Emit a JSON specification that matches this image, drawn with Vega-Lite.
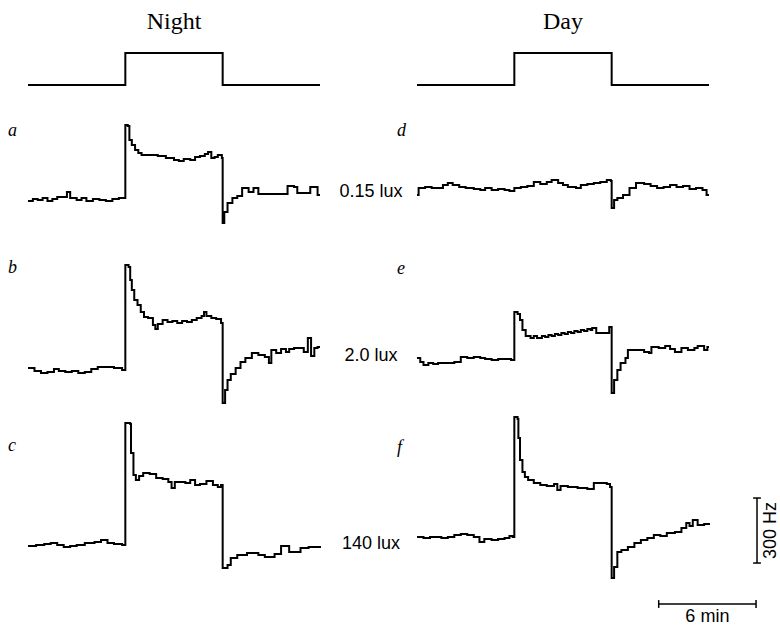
{
  "$schema": "https://vega.github.io/schema/vega-lite/v6.json",
  "padding": {"left": 8, "top": 10, "right": 0, "bottom": 0},
  "background": "white",
  "config": {
    "view": {"stroke": null},
    "title": {"color": "black", "fontWeight": "normal"},
    "axis": {"labelColor": "black", "titleColor": "black"}
  },
  "datasets": {
    "stimulus": [
      {"min": 0, "level": 0}, {"min": 6, "level": 1}, {"min": 12, "level": 0}, {"min": 18, "level": 0}
    ],
    "traces": [
      {"panel":"a","min":0,"hz":157},{"panel":"a","min":0.3,"hz":166},{"panel":"a","min":0.6,"hz":162},{"panel":"a","min":0.9,"hz":171},{"panel":"a","min":1.2,"hz":157},{"panel":"a","min":1.5,"hz":166},{"panel":"a","min":1.8,"hz":175},{"panel":"a","min":2.1,"hz":175},{"panel":"a","min":2.4,"hz":198},{"panel":"a","min":2.6,"hz":171},{"panel":"a","min":3.0,"hz":162},{"panel":"a","min":3.3,"hz":171},{"panel":"a","min":3.6,"hz":157},{"panel":"a","min":4.0,"hz":166},{"panel":"a","min":4.4,"hz":162},{"panel":"a","min":4.8,"hz":157},{"panel":"a","min":5.2,"hz":166},{"panel":"a","min":5.6,"hz":171},{"panel":"a","min":5.9,"hz":171},{"panel":"a","min":6.0,"hz":508},{"panel":"a","min":6.15,"hz":503},{"panel":"a","min":6.25,"hz":438},{"panel":"a","min":6.4,"hz":415},{"panel":"a","min":6.6,"hz":392},{"panel":"a","min":6.8,"hz":378},{"panel":"a","min":7.0,"hz":369},{"panel":"a","min":7.5,"hz":369},{"panel":"a","min":8.0,"hz":365},{"panel":"a","min":8.5,"hz":355},{"panel":"a","min":9.0,"hz":346},{"panel":"a","min":9.3,"hz":342},{"panel":"a","min":9.6,"hz":351},{"panel":"a","min":10.0,"hz":346},{"panel":"a","min":10.3,"hz":360},{"panel":"a","min":10.6,"hz":365},{"panel":"a","min":10.9,"hz":374},{"panel":"a","min":11.1,"hz":383},{"panel":"a","min":11.3,"hz":355},{"panel":"a","min":11.5,"hz":360},{"panel":"a","min":11.7,"hz":369},{"panel":"a","min":11.95,"hz":355},{"panel":"a","min":12.0,"hz":55},{"panel":"a","min":12.1,"hz":106},{"panel":"a","min":12.3,"hz":148},{"panel":"a","min":12.6,"hz":171},{"panel":"a","min":12.9,"hz":180},{"panel":"a","min":13.2,"hz":217},{"panel":"a","min":13.6,"hz":198},{"panel":"a","min":13.9,"hz":217},{"panel":"a","min":14.2,"hz":189},{"panel":"a","min":15.0,"hz":189},{"panel":"a","min":15.6,"hz":189},{"panel":"a","min":16.0,"hz":226},{"panel":"a","min":16.4,"hz":222},{"panel":"a","min":16.6,"hz":194},{"panel":"a","min":17.2,"hz":194},{"panel":"a","min":17.4,"hz":222},{"panel":"a","min":17.7,"hz":222},{"panel":"a","min":17.85,"hz":185},{"panel":"a","min":18.0,"hz":185},

      {"panel":"d","min":0,"hz":185},{"panel":"d","min":0.1,"hz":217},{"panel":"d","min":0.5,"hz":222},{"panel":"d","min":0.9,"hz":217},{"panel":"d","min":1.3,"hz":217},{"panel":"d","min":1.6,"hz":231},{"panel":"d","min":1.9,"hz":240},{"panel":"d","min":2.2,"hz":231},{"panel":"d","min":2.6,"hz":222},{"panel":"d","min":3.0,"hz":217},{"panel":"d","min":3.5,"hz":212},{"panel":"d","min":3.9,"hz":208},{"panel":"d","min":4.2,"hz":217},{"panel":"d","min":4.6,"hz":208},{"panel":"d","min":5.0,"hz":212},{"panel":"d","min":5.4,"hz":208},{"panel":"d","min":5.7,"hz":203},{"panel":"d","min":6.0,"hz":217},{"panel":"d","min":6.4,"hz":222},{"panel":"d","min":6.8,"hz":226},{"panel":"d","min":7.2,"hz":245},{"panel":"d","min":7.6,"hz":235},{"panel":"d","min":8.0,"hz":245},{"panel":"d","min":8.3,"hz":254},{"panel":"d","min":8.7,"hz":240},{"panel":"d","min":9.0,"hz":231},{"panel":"d","min":9.3,"hz":222},{"panel":"d","min":9.8,"hz":217},{"panel":"d","min":10.1,"hz":231},{"panel":"d","min":10.5,"hz":235},{"panel":"d","min":10.9,"hz":240},{"panel":"d","min":11.3,"hz":245},{"panel":"d","min":11.7,"hz":254},{"panel":"d","min":11.95,"hz":249},{"panel":"d","min":12.0,"hz":125},{"panel":"d","min":12.15,"hz":162},{"panel":"d","min":12.35,"hz":171},{"panel":"d","min":12.7,"hz":185},{"panel":"d","min":13.1,"hz":217},{"panel":"d","min":13.5,"hz":240},{"panel":"d","min":14.0,"hz":235},{"panel":"d","min":14.4,"hz":226},{"panel":"d","min":14.8,"hz":217},{"panel":"d","min":15.2,"hz":222},{"panel":"d","min":15.6,"hz":231},{"panel":"d","min":16.0,"hz":222},{"panel":"d","min":16.4,"hz":226},{"panel":"d","min":16.8,"hz":212},{"panel":"d","min":17.2,"hz":217},{"panel":"d","min":17.6,"hz":208},{"panel":"d","min":17.85,"hz":185},{"panel":"d","min":18.0,"hz":185},

      {"panel":"b","min":0,"hz":194},{"panel":"b","min":0.4,"hz":180},{"panel":"b","min":0.8,"hz":171},{"panel":"b","min":1.2,"hz":175},{"panel":"b","min":1.6,"hz":189},{"panel":"b","min":1.9,"hz":180},{"panel":"b","min":2.3,"hz":175},{"panel":"b","min":2.7,"hz":180},{"panel":"b","min":3.1,"hz":171},{"panel":"b","min":3.5,"hz":175},{"panel":"b","min":3.9,"hz":189},{"panel":"b","min":4.3,"hz":198},{"panel":"b","min":4.8,"hz":198},{"panel":"b","min":5.3,"hz":194},{"panel":"b","min":5.8,"hz":185},{"panel":"b","min":6.0,"hz":669},{"panel":"b","min":6.2,"hz":660},{"panel":"b","min":6.3,"hz":600},{"panel":"b","min":6.4,"hz":554},{"panel":"b","min":6.55,"hz":508},{"panel":"b","min":6.75,"hz":485},{"panel":"b","min":6.95,"hz":452},{"panel":"b","min":7.15,"hz":429},{"panel":"b","min":7.4,"hz":425},{"panel":"b","min":7.7,"hz":392},{"panel":"b","min":7.85,"hz":374},{"panel":"b","min":8.0,"hz":397},{"panel":"b","min":8.3,"hz":415},{"panel":"b","min":8.6,"hz":406},{"panel":"b","min":8.9,"hz":411},{"panel":"b","min":9.2,"hz":402},{"panel":"b","min":9.5,"hz":411},{"panel":"b","min":9.8,"hz":406},{"panel":"b","min":10.1,"hz":415},{"panel":"b","min":10.4,"hz":425},{"panel":"b","min":10.7,"hz":434},{"panel":"b","min":10.85,"hz":452},{"panel":"b","min":11.0,"hz":434},{"panel":"b","min":11.3,"hz":425},{"panel":"b","min":11.6,"hz":420},{"panel":"b","min":11.9,"hz":402},{"panel":"b","min":12.0,"hz":32},{"panel":"b","min":12.15,"hz":92},{"panel":"b","min":12.3,"hz":138},{"panel":"b","min":12.5,"hz":166},{"panel":"b","min":12.8,"hz":194},{"panel":"b","min":13.1,"hz":222},{"panel":"b","min":13.4,"hz":240},{"panel":"b","min":13.8,"hz":263},{"panel":"b","min":14.2,"hz":254},{"panel":"b","min":14.6,"hz":245},{"panel":"b","min":14.85,"hz":217},{"panel":"b","min":15.0,"hz":277},{"panel":"b","min":15.3,"hz":263},{"panel":"b","min":15.6,"hz":282},{"panel":"b","min":15.9,"hz":268},{"panel":"b","min":16.1,"hz":282},{"panel":"b","min":16.4,"hz":286},{"panel":"b","min":16.8,"hz":286},{"panel":"b","min":17.0,"hz":268},{"panel":"b","min":17.25,"hz":332},{"panel":"b","min":17.45,"hz":249},{"panel":"b","min":17.65,"hz":286},{"panel":"b","min":17.85,"hz":291},{"panel":"b","min":18.0,"hz":291},

      {"panel":"e","min":0,"hz":240},{"panel":"e","min":0.2,"hz":222},{"panel":"e","min":0.4,"hz":208},{"panel":"e","min":0.7,"hz":217},{"panel":"e","min":1.0,"hz":212},{"panel":"e","min":1.3,"hz":217},{"panel":"e","min":1.8,"hz":217},{"panel":"e","min":2.3,"hz":222},{"panel":"e","min":2.7,"hz":245},{"panel":"e","min":3.1,"hz":240},{"panel":"e","min":3.5,"hz":245},{"panel":"e","min":3.9,"hz":240},{"panel":"e","min":4.2,"hz":235},{"panel":"e","min":4.6,"hz":231},{"panel":"e","min":5.0,"hz":235},{"panel":"e","min":5.4,"hz":235},{"panel":"e","min":5.8,"hz":231},{"panel":"e","min":6.0,"hz":452},{"panel":"e","min":6.2,"hz":443},{"panel":"e","min":6.35,"hz":415},{"panel":"e","min":6.5,"hz":369},{"panel":"e","min":6.7,"hz":342},{"panel":"e","min":7.0,"hz":332},{"panel":"e","min":7.2,"hz":342},{"panel":"e","min":7.4,"hz":332},{"panel":"e","min":7.7,"hz":342},{"panel":"e","min":7.9,"hz":337},{"panel":"e","min":8.1,"hz":346},{"panel":"e","min":8.3,"hz":342},{"panel":"e","min":8.5,"hz":351},{"panel":"e","min":8.7,"hz":346},{"panel":"e","min":8.9,"hz":355},{"panel":"e","min":9.1,"hz":351},{"panel":"e","min":9.3,"hz":360},{"panel":"e","min":9.5,"hz":355},{"panel":"e","min":9.7,"hz":365},{"panel":"e","min":9.9,"hz":360},{"panel":"e","min":10.1,"hz":369},{"panel":"e","min":10.3,"hz":365},{"panel":"e","min":10.5,"hz":374},{"panel":"e","min":10.7,"hz":369},{"panel":"e","min":10.8,"hz":378},{"panel":"e","min":11.05,"hz":355},{"panel":"e","min":11.5,"hz":355},{"panel":"e","min":11.85,"hz":383},{"panel":"e","min":12.0,"hz":78},{"panel":"e","min":12.15,"hz":138},{"panel":"e","min":12.35,"hz":185},{"panel":"e","min":12.55,"hz":217},{"panel":"e","min":12.85,"hz":240},{"panel":"e","min":13.0,"hz":277},{"panel":"e","min":13.5,"hz":277},{"panel":"e","min":14.0,"hz":268},{"panel":"e","min":14.3,"hz":263},{"panel":"e","min":14.45,"hz":291},{"panel":"e","min":14.9,"hz":286},{"panel":"e","min":15.3,"hz":295},{"panel":"e","min":15.6,"hz":282},{"panel":"e","min":15.9,"hz":268},{"panel":"e","min":16.3,"hz":286},{"panel":"e","min":16.7,"hz":277},{"panel":"e","min":17.1,"hz":286},{"panel":"e","min":17.3,"hz":295},{"panel":"e","min":17.7,"hz":277},{"panel":"e","min":17.9,"hz":291},{"panel":"e","min":18.0,"hz":291},

      {"panel":"c","min":0,"hz":365},{"panel":"c","min":0.5,"hz":369},{"panel":"c","min":1.0,"hz":374},{"panel":"c","min":1.4,"hz":378},{"panel":"c","min":1.8,"hz":369},{"panel":"c","min":2.2,"hz":360},{"panel":"c","min":2.6,"hz":365},{"panel":"c","min":3.0,"hz":369},{"panel":"c","min":3.5,"hz":378},{"panel":"c","min":4.1,"hz":383},{"panel":"c","min":4.5,"hz":392},{"panel":"c","min":4.9,"hz":378},{"panel":"c","min":5.3,"hz":374},{"panel":"c","min":5.8,"hz":369},{"panel":"c","min":6.0,"hz":932},{"panel":"c","min":6.3,"hz":928},{"panel":"c","min":6.35,"hz":794},{"panel":"c","min":6.5,"hz":692},{"panel":"c","min":6.65,"hz":669},{"panel":"c","min":6.85,"hz":688},{"panel":"c","min":7.1,"hz":701},{"panel":"c","min":7.5,"hz":697},{"panel":"c","min":7.9,"hz":678},{"panel":"c","min":8.3,"hz":674},{"panel":"c","min":8.65,"hz":660},{"panel":"c","min":8.85,"hz":632},{"panel":"c","min":9.05,"hz":660},{"panel":"c","min":9.4,"hz":660},{"panel":"c","min":9.7,"hz":655},{"panel":"c","min":10.0,"hz":669},{"panel":"c","min":10.3,"hz":646},{"panel":"c","min":10.6,"hz":651},{"panel":"c","min":11.0,"hz":665},{"panel":"c","min":11.4,"hz":646},{"panel":"c","min":11.7,"hz":637},{"panel":"c","min":11.9,"hz":646},{"panel":"c","min":12.0,"hz":263},{"panel":"c","min":12.3,"hz":277},{"panel":"c","min":12.5,"hz":309},{"panel":"c","min":12.9,"hz":323},{"panel":"c","min":13.5,"hz":332},{"panel":"c","min":14.2,"hz":323},{"panel":"c","min":14.6,"hz":314},{"panel":"c","min":15.2,"hz":328},{"panel":"c","min":15.6,"hz":365},{"panel":"c","min":15.9,"hz":365},{"panel":"c","min":16.1,"hz":337},{"panel":"c","min":16.6,"hz":337},{"panel":"c","min":16.8,"hz":355},{"panel":"c","min":17.3,"hz":360},{"panel":"c","min":18.0,"hz":365},

      {"panel":"f","min":0,"hz":406},{"panel":"f","min":0.4,"hz":402},{"panel":"f","min":0.8,"hz":406},{"panel":"f","min":1.5,"hz":402},{"panel":"f","min":1.9,"hz":406},{"panel":"f","min":2.3,"hz":415},{"panel":"f","min":2.7,"hz":420},{"panel":"f","min":3.1,"hz":415},{"panel":"f","min":3.5,"hz":406},{"panel":"f","min":3.85,"hz":383},{"panel":"f","min":4.15,"hz":397},{"panel":"f","min":4.6,"hz":392},{"panel":"f","min":5.0,"hz":397},{"panel":"f","min":5.4,"hz":402},{"panel":"f","min":5.7,"hz":411},{"panel":"f","min":5.9,"hz":406},{"panel":"f","min":6.0,"hz":960},{"panel":"f","min":6.2,"hz":951},{"panel":"f","min":6.25,"hz":863},{"panel":"f","min":6.35,"hz":762},{"panel":"f","min":6.5,"hz":706},{"panel":"f","min":6.65,"hz":683},{"panel":"f","min":6.85,"hz":669},{"panel":"f","min":7.2,"hz":655},{"panel":"f","min":7.6,"hz":646},{"panel":"f","min":8.0,"hz":642},{"panel":"f","min":8.45,"hz":651},{"panel":"f","min":8.65,"hz":623},{"panel":"f","min":8.85,"hz":642},{"panel":"f","min":9.3,"hz":637},{"panel":"f","min":9.9,"hz":632},{"panel":"f","min":10.5,"hz":628},{"panel":"f","min":10.9,"hz":655},{"panel":"f","min":11.3,"hz":655},{"panel":"f","min":11.7,"hz":651},{"panel":"f","min":11.9,"hz":637},{"panel":"f","min":12.0,"hz":217},{"panel":"f","min":12.15,"hz":268},{"panel":"f","min":12.35,"hz":337},{"panel":"f","min":12.6,"hz":346},{"panel":"f","min":13.0,"hz":360},{"panel":"f","min":13.4,"hz":378},{"panel":"f","min":13.8,"hz":392},{"panel":"f","min":14.2,"hz":402},{"panel":"f","min":14.6,"hz":415},{"panel":"f","min":15.0,"hz":411},{"panel":"f","min":15.4,"hz":425},{"panel":"f","min":15.9,"hz":429},{"panel":"f","min":16.3,"hz":448},{"panel":"f","min":16.6,"hz":471},{"panel":"f","min":16.8,"hz":457},{"panel":"f","min":17.0,"hz":485},{"panel":"f","min":17.3,"hz":462},{"panel":"f","min":17.7,"hz":466},{"panel":"f","min":18.0,"hz":471}
    ],
    "barsV": [
      {"min": 20.96, "hz": 286, "hz2": 586},
      {"min": 14.9, "hz": 79, "hz2": 115},
      {"min": 20.9, "hz": 79, "hz2": 115}
    ],
    "barsH": [
      {"min": 14.9, "min2": 20.9, "hz": 97},
      {"min": 20.72, "min2": 21.2, "hz": 286},
      {"min": 20.72, "min2": 21.2, "hz": 586}
    ],
    "labelV": [{"min": 21.82, "hz": 436, "label": "300 Hz"}],
    "labelH": [{"min": 17.9, "hz": 37, "label": "6 min"}]
  },
  "columns": 2,
  "spacing": {"row": 0, "column": 97},
  "bounds": "flush",
  "concat": [
    {
      "width": 292, "height": 50,
      "title": {"text": "Night", "anchor": "middle", "frame": "group", "offset": 0, "baseline": "middle", "dy": 1, "font": "Liberation Serif", "fontSize": 24, "fontWeight": "normal", "color": "black"},
      "data": {"name": "stimulus"},
      "mark": {"type": "line", "interpolate": "step-after", "color": "black", "strokeWidth": 2},
      "encoding": {
        "x": {"field": "min", "type": "quantitative", "scale": {"domain": [0, 18], "nice": false, "zero": false}, "axis": null},
        "y": {"field": "level", "type": "quantitative", "scale": {"domain": [-0.3125, 1.25], "nice": false, "zero": false}, "axis": null}
      }
    },
    {
      "width": 292, "height": 50,
      "title": {"text": "Day", "anchor": "middle", "frame": "group", "offset": 0, "baseline": "middle", "dy": 1, "font": "Liberation Serif", "fontSize": 24, "fontWeight": "normal", "color": "black"},
      "data": {"name": "stimulus"},
      "mark": {"type": "line", "interpolate": "step-after", "color": "black", "strokeWidth": 2},
      "encoding": {
        "x": {"field": "min", "type": "quantitative", "scale": {"domain": [0, 18], "nice": false, "zero": false}, "axis": null},
        "y": {"field": "level", "type": "quantitative", "scale": {"domain": [-0.3125, 1.25], "nice": false, "zero": false}, "axis": null}
      }
    },
    {
      "width": 292, "height": 140,
      "title": {"text": "a", "anchor": "start", "frame": "group", "offset": 0, "baseline": "middle", "dx": -20, "dy": 54, "font": "Liberation Serif", "fontStyle": "italic", "fontSize": 18, "fontWeight": "normal", "color": "black"},
      "data": {"name": "traces"},
      "transform": [{"filter": "datum.panel == 'a'"}],
      "mark": {"type": "line", "interpolate": "step-after", "color": "black", "strokeWidth": 2},
      "encoding": {
        "x": {"field": "min", "type": "quantitative", "scale": {"domain": [0, 18], "nice": false, "zero": false}, "axis": null},
        "y": {"field": "hz", "type": "quantitative", "scale": {"domain": [0, 646.2], "nice": false, "zero": false}, "axis": null}
      }
    },
    {
      "width": 292, "height": 140,
      "title": {"text": "d", "anchor": "start", "frame": "group", "offset": 0, "baseline": "middle", "dx": -20, "dy": 54, "font": "Liberation Serif", "fontStyle": "italic", "fontSize": 18, "fontWeight": "normal", "color": "black"},
      "data": {"name": "traces"},
      "transform": [{"filter": "datum.panel == 'd'"}],
      "mark": {"type": "line", "interpolate": "step-after", "color": "black", "strokeWidth": 2},
      "encoding": {
        "x": {"field": "min", "type": "quantitative", "scale": {"domain": [0, 18], "nice": false, "zero": false}, "axis": null},
        "y": {"field": "hz", "type": "quantitative", "scale": {"domain": [0, 646.2], "nice": false, "zero": false},
          "axis": {"title": "0.15 lux", "domain": false, "ticks": false, "labels": false, "grid": false, "titleAngle": 0, "titleX": -46.5, "titleY": 96, "titleAlign": "center", "titleBaseline": "middle", "titleFont": "Liberation Sans", "titleFontSize": 18, "titleFontWeight": "normal", "titleColor": "black"}}
      }
    },
    {
      "width": 292, "height": 175,
      "title": {"text": "b", "anchor": "start", "frame": "group", "offset": 0, "baseline": "middle", "dx": -20, "dy": 51, "font": "Liberation Serif", "fontStyle": "italic", "fontSize": 18, "fontWeight": "normal", "color": "black"},
      "data": {"name": "traces"},
      "transform": [{"filter": "datum.panel == 'b'"}],
      "mark": {"type": "line", "interpolate": "step-after", "color": "black", "strokeWidth": 2},
      "encoding": {
        "x": {"field": "min", "type": "quantitative", "scale": {"domain": [0, 18], "nice": false, "zero": false}, "axis": null},
        "y": {"field": "hz", "type": "quantitative", "scale": {"domain": [0, 807.7], "nice": false, "zero": false}, "axis": null}
      }
    },
    {
      "width": 292, "height": 175,
      "title": {"text": "e", "anchor": "start", "frame": "group", "offset": 0, "baseline": "middle", "dx": -20, "dy": 52, "font": "Liberation Serif", "fontStyle": "italic", "fontSize": 18, "fontWeight": "normal", "color": "black"},
      "data": {"name": "traces"},
      "transform": [{"filter": "datum.panel == 'e'"}],
      "mark": {"type": "line", "interpolate": "step-after", "color": "black", "strokeWidth": 2},
      "encoding": {
        "x": {"field": "min", "type": "quantitative", "scale": {"domain": [0, 18], "nice": false, "zero": false}, "axis": null},
        "y": {"field": "hz", "type": "quantitative", "scale": {"domain": [0, 807.7], "nice": false, "zero": false},
          "axis": {"title": "2.0 lux", "domain": false, "ticks": false, "labels": false, "grid": false, "titleAngle": 0, "titleX": -46.5, "titleY": 120, "titleAlign": "center", "titleBaseline": "middle", "titleFont": "Liberation Sans", "titleFontSize": 18, "titleFontWeight": "normal", "titleColor": "black"}}
      }
    },
    {
      "width": 292, "height": 215,
      "title": {"text": "c", "anchor": "start", "frame": "group", "offset": 0, "baseline": "middle", "dx": -20, "dy": 54, "font": "Liberation Serif", "fontStyle": "italic", "fontSize": 18, "fontWeight": "normal", "color": "black"},
      "data": {"name": "traces"},
      "transform": [{"filter": "datum.panel == 'c'"}],
      "mark": {"type": "line", "interpolate": "step-after", "color": "black", "strokeWidth": 2},
      "encoding": {
        "x": {"field": "min", "type": "quantitative", "scale": {"domain": [0, 18], "nice": false, "zero": false}, "axis": null},
        "y": {"field": "hz", "type": "quantitative", "scale": {"domain": [0, 992.3], "nice": false, "zero": false}, "axis": null}
      }
    },
    {
      "width": 361, "height": 215,
      "title": {"text": "f", "anchor": "start", "frame": "group", "offset": 0, "baseline": "middle", "dx": -20, "dy": 56, "font": "Liberation Serif", "fontStyle": "italic", "fontSize": 18, "fontWeight": "normal", "color": "black"},
      "layer": [
        {
          "data": {"name": "traces"},
          "transform": [{"filter": "datum.panel == 'f'"}],
          "mark": {"type": "line", "interpolate": "step-after", "color": "black", "strokeWidth": 2},
          "encoding": {
            "x": {"field": "min", "type": "quantitative", "scale": {"domain": [0, 22.254], "nice": false, "zero": false}, "axis": null},
            "y": {"field": "hz", "type": "quantitative", "scale": {"domain": [0, 992.3], "nice": false, "zero": false},
              "axis": {"title": "140 lux", "domain": false, "ticks": false, "labels": false, "grid": false, "titleAngle": 0, "titleX": -46.5, "titleY": 133, "titleAlign": "center", "titleBaseline": "middle", "titleFont": "Liberation Sans", "titleFontSize": 18, "titleFontWeight": "normal", "titleColor": "black"}}
          }
        },
        {
          "data": {"name": "barsV"},
          "mark": {"type": "rule", "color": "black", "strokeWidth": 1.5},
          "encoding": {
            "x": {"field": "min", "type": "quantitative"},
            "y": {"field": "hz", "type": "quantitative"},
            "y2": {"field": "hz2"}
          }
        },
        {
          "data": {"name": "barsH"},
          "mark": {"type": "rule", "color": "black", "strokeWidth": 1.5},
          "encoding": {
            "x": {"field": "min", "type": "quantitative"},
            "x2": {"field": "min2"},
            "y": {"field": "hz", "type": "quantitative"}
          }
        },
        {
          "data": {"name": "labelV"},
          "mark": {"type": "text", "angle": 270, "align": "center", "baseline": "middle", "font": "Liberation Sans", "fontSize": 18, "color": "black"},
          "encoding": {
            "x": {"field": "min", "type": "quantitative"},
            "y": {"field": "hz", "type": "quantitative"},
            "text": {"field": "label"}
          }
        },
        {
          "data": {"name": "labelH"},
          "mark": {"type": "text", "align": "center", "baseline": "middle", "font": "Liberation Sans", "fontSize": 18, "color": "black"},
          "encoding": {
            "x": {"field": "min", "type": "quantitative"},
            "y": {"field": "hz", "type": "quantitative"},
            "text": {"field": "label"}
          }
        }
      ]
    }
  ]
}
